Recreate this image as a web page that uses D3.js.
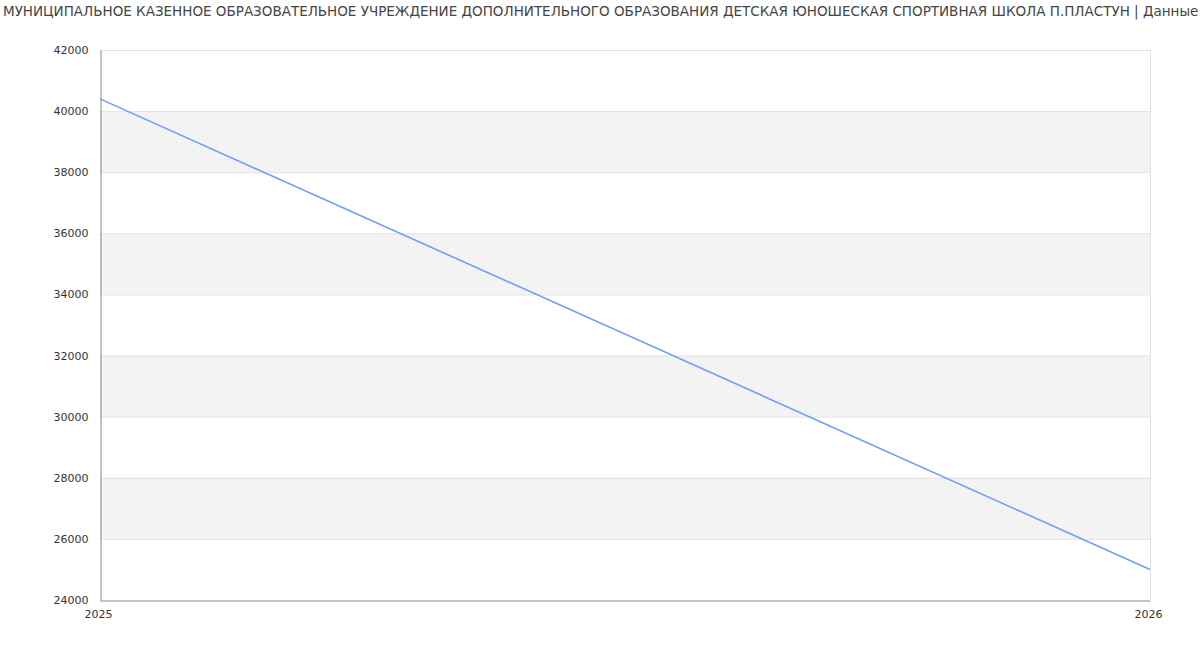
<!DOCTYPE html>
<html><head><meta charset="utf-8">
<script src="https://cdn.jsdelivr.net/npm/d3@7"></script>
<style>body{margin:0;background:#fff;font-family:"DejaVu Sans",sans-serif;}</style>
</head><body>
<svg id="c" width="1200" height="650"></svg>
<script>
const title = "МУНИЦИПАЛЬНОЕ КАЗЕННОЕ ОБРАЗОВАТЕЛЬНОЕ УЧРЕЖДЕНИЕ ДОПОЛНИТЕЛЬНОГО ОБРАЗОВАНИЯ ДЕТСКАЯ ЮНОШЕСКАЯ СПОРТИВНАЯ ШКОЛА П.ПЛАСТУН | Данные";
const years = [2025, 2026];
const values = [40400, 25000];
const yTicks = [24000, 26000, 28000, 30000, 32000, 34000, 36000, 38000, 40000, 42000];

const svg = d3.select("#c");
const m = {l:100, r:50, t:50, b:50};
const W = 1200, H = 650;
const x = d3.scaleLinear().domain([2025, 2026]).range([m.l, W - m.r]);
const y = d3.scaleLinear().domain([24000, 42000]).range([H - m.b, m.t]);

svg.append("text").attr("x", 3).attr("y", 16).attr("font-size", 13.5).attr("fill", "#444")
  .attr("font-family", "DejaVu Sans, sans-serif").text(title);

// bands
for (let i = 0; i < yTicks.length - 1; i++) {
  if (i % 2 === 1) {
    svg.append("rect").attr("x", m.l).attr("width", W - m.r - m.l)
      .attr("y", y(yTicks[i+1])).attr("height", y(yTicks[i]) - y(yTicks[i+1]))
      .attr("fill", "#f3f3f3");
  }
}
// grid
svg.append("g").selectAll("line").data(yTicks.slice(1)).join("line")
  .attr("x1", m.l).attr("x2", W - m.r).attr("y1", d => y(d) + 0.5).attr("y2", d => y(d) + 0.5)
  .attr("stroke", "#e2e2e2");
svg.append("line").attr("x1", W - m.r + 0.5).attr("x2", W - m.r + 0.5)
  .attr("y1", m.t).attr("y2", H - m.b).attr("stroke", "#e2e2e2");

// y axis
const ya = svg.append("g").attr("transform", `translate(${m.l + 0.5},0)`)
  .call(d3.axisLeft(y).tickValues(yTicks).tickSize(0).tickPadding(12).tickFormat(d3.format("d")));
ya.select(".domain").attr("stroke", "#888");
ya.selectAll("text").attr("font-size", 11).attr("fill", "#333").attr("font-family", "DejaVu Sans, sans-serif");

// x axis
const xa = svg.append("g").attr("transform", `translate(0,${H - m.b + 0.5})`)
  .call(d3.axisBottom(x).tickValues(years).tickSize(0).tickPadding(10).tickFormat(d3.format("d")));
xa.select(".domain").attr("stroke", "#888");
xa.selectAll("text").attr("font-size", 11).attr("fill", "#333").attr("font-family", "DejaVu Sans, sans-serif")
  .attr("dx", -2);

// line
svg.append("path").datum(years.map((d, i) => [d, values[i]]))
  .attr("fill", "none").attr("stroke", "#6f9ef8").attr("stroke-width", 1.6)
  .attr("d", d3.line().x(d => x(d[0])).y(d => y(d[1])));
</script>
</body></html>
